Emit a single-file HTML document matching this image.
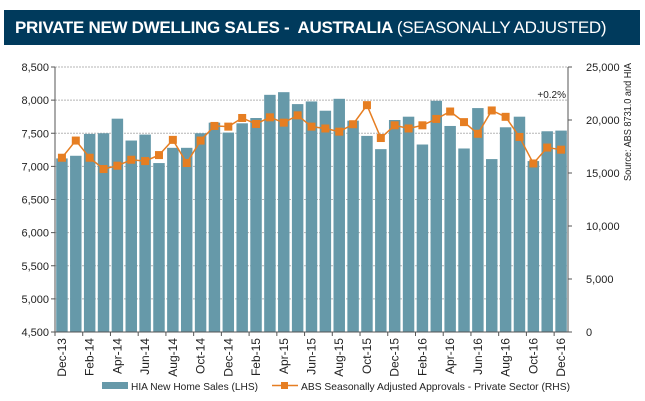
<!DOCTYPE html>
<html><head><meta charset="utf-8"><style>
body{margin:0;background:#fff;font-family:"Liberation Sans",sans-serif;}
#wrap{position:relative;width:645px;height:401px;overflow:hidden;}
#title{position:absolute;left:4px;top:10px;width:636px;height:35px;background:#003a5c;color:#fff;font-size:17px;line-height:35px;box-sizing:border-box;padding-left:11px;font-weight:bold;letter-spacing:-0.3px;}
#title span{font-weight:normal;}
</style></head><body>
<div id="wrap">
<div id="title">PRIVATE NEW DWELLING SALES -&nbsp; AUSTRALIA <span>(SEASONALLY ADJUSTED)</span></div>
<svg id="chart" width="645" height="401" style="position:absolute;left:0;top:0"></svg>
</div>
<script>
const months=["Dec-13","Jan-14","Feb-14","Mar-14","Apr-14","May-14","Jun-14","Jul-14","Aug-14","Sep-14","Oct-14","Nov-14","Dec-14","Jan-15","Feb-15","Mar-15","Apr-15","May-15","Jun-15","Jul-15","Aug-15","Sep-15","Oct-15","Nov-15","Dec-15","Jan-16","Feb-16","Mar-16","Apr-16","May-16","Jun-16","Jul-16","Aug-16","Sep-16","Oct-16","Nov-16","Dec-16"];
const hiaSales=[7120,7160,7490,7500,7720,7390,7480,7050,7280,7280,7500,7660,7510,7650,7730,8080,8120,7940,7980,7840,8020,7690,7460,7260,7700,7750,7330,7990,7610,7270,7880,7110,7590,7750,7080,7530,7540];
const absApprovals=[16440,18060,16440,15375,15690,16250,16125,16690,18125,15940,18060,19440,19375,20190,19625,20250,19750,20440,19375,19200,18900,19600,21400,18300,19500,19200,19500,20100,20800,19800,18700,20900,20300,18400,15900,17400,17200];
const leftTicks=[4500,5000,5500,6000,6500,7000,7500,8000,8500];
const rightTicks=[0,5000,10000,15000,20000,25000];

const NS="http://www.w3.org/2000/svg";
const svg=document.getElementById('chart');
const X0=55,X1=568,Y0=332,Y1=67;
const step=(X1-X0)/months.length;
const xc=i=>X0+step*(i+0.5);
const yL=v=>Y0-(v-4500)/4000*(Y0-Y1);
const yR=v=>Y0-v/25000*(Y0-Y1);
function el(tag,attrs,parent){const e=document.createElementNS(NS,tag);for(const k in attrs)e.setAttribute(k,attrs[k]);(parent||svg).appendChild(e);return e;}

leftTicks.forEach(v=>{
  const y=yL(v);
  if(v>4500){const g=el('line',{x1:X0,x2:X1,y1:y,y2:y,stroke:'#b5b5b5','stroke-dasharray':'2,1','stroke-width':1});
  
  }
  const t=el('text',{x:X0-6,y:y+4,'text-anchor':'end','font-size':11,fill:'#222'});
  t.textContent=v.toLocaleString('en-US');
  
  
  el('line',{x1:X0-4,x2:X0,y1:y,y2:y,stroke:'#555'});
});
rightTicks.forEach(v=>{
  const y=yR(v);
  const t=el('text',{x:X1+18,y:y+4,'text-anchor':'start','font-size':11,fill:'#222'});
  t.textContent=v.toLocaleString('en-US');
  
  
  el('line',{x1:X1,x2:X1+4,y1:y,y2:y,stroke:'#555'});
});

hiaSales.forEach((v,i)=>{
  const w=step-2.4;
  const b=el('rect',{x:xc(i)-w/2,y:yL(v),width:w,height:Y0-yL(v),fill:'#6699a9'});
  
  
});

el('line',{x1:X0,x2:X0,y1:Y1,y2:Y0,stroke:'#555'});
el('line',{x1:X1,x2:X1,y1:Y1,y2:Y0,stroke:'#555'});
el('line',{x1:X0,x2:X1,y1:Y0,y2:Y0,stroke:'#555'});

const pts=absApprovals.map((v,i)=>xc(i)+','+yR(v)).join(' ');
const pl=el('polyline',{points:pts,fill:'none',stroke:'#e67e22','stroke-width':1.5});


absApprovals.forEach((v,i)=>{
  const m=el('rect',{x:xc(i)-4,y:yR(v)-4,width:8,height:8,fill:'#e67e22'});
  
  
});

months.forEach((m,i)=>{
  if(i%2)return;
  const x=xc(i),y=Y0+6;
  el('line',{x1:X0+step*i,x2:X0+step*i,y1:Y0,y2:Y0+4,stroke:'#555'});
  const t=el('text',{x:x+4,y:y,'text-anchor':'end','font-size':12,fill:'#222',transform:`rotate(-90 ${x+4} ${y})`});
  t.textContent=m;
  
  
});

const a=el('text',{x:566,y:98,'text-anchor':'end','font-size':10,fill:'#222'});
a.textContent='+0.2%';



const s=el('text',{x:631,y:181,'font-size':10,fill:'#222',textLength:118,lengthAdjust:'spacingAndGlyphs',transform:'rotate(-90 631 181)'});
s.textContent='Source: ABS 8731.0 and HIA';



const lg=el('g',{});


const l1=el('rect',{x:102,y:382,width:26,height:7,fill:'#6699a9'},lg);


const t1=el('text',{x:131,y:390,'font-size':10.5,fill:'#222',textLength:127,lengthAdjust:'spacingAndGlyphs'},lg);
t1.textContent='HIA New Home Sales (LHS)';


el('line',{x1:272,x2:298,y1:385.5,y2:385.5,stroke:'#e67e22','stroke-width':1.5},lg);
const l2=el('rect',{x:281,y:382,width:7,height:7,fill:'#e67e22'},lg);


const t2=el('text',{x:301,y:390,'font-size':10.5,fill:'#222',textLength:269,lengthAdjust:'spacingAndGlyphs'},lg);
t2.textContent='ABS Seasonally Adjusted Approvals - Private Sector (RHS)';


</script>
</body></html>
